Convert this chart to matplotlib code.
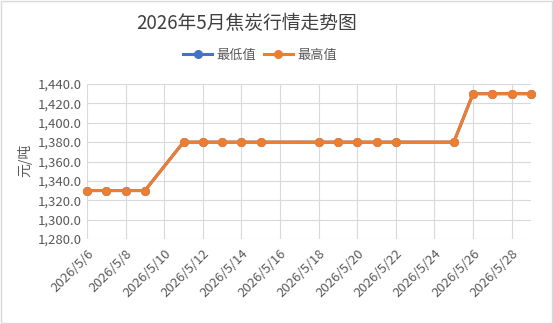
import matplotlib
matplotlib.use("Agg")
import matplotlib.pyplot as plt
import matplotlib.dates as mdates
from matplotlib.ticker import FuncFormatter
import datetime as dt

plt.rcParams['font.family'] = ['Noto Sans CJK SC', 'DejaVu Sans']

days = [6, 7, 8, 9, 11, 12, 13, 14, 15, 18, 19, 20, 21, 22, 25, 26, 27, 28, 29]
low_vals = [1330, 1330, 1330, 1330, 1380, 1380, 1380, 1380, 1380,
            1380, 1380, 1380, 1380, 1380, 1380, 1430, 1430, 1430, 1430]
high_vals = [1330, 1330, 1330, 1330, 1380, 1380, 1380, 1380, 1380,
             1380, 1380, 1380, 1380, 1380, 1380, 1430, 1430, 1430, 1430]
tick_days = [6, 8, 10, 12, 14, 16, 18, 20, 22, 24, 26, 28]

dates = [dt.date(2026, 5, d) for d in days]
ticks = [dt.date(2026, 5, d) for d in tick_days]

txt = '#595959'
blue = '#4472C4'
orange = '#ED7D31'

fig = plt.figure(figsize=(5.53, 3.24), dpi=100)
ax = fig.add_axes([87/553, 1-239/324, (531-87)/553, (239-84)/324])

ax.plot(dates, low_vals, color=blue, lw=2.2, marker='o', ms=5.5, label='最低值',
        clip_on=False)
ax.plot(dates, high_vals, color=orange, lw=2.2, marker='o', ms=5.5, label='最高值',
        clip_on=False)

ax.set_xlim(dt.date(2026, 5, 6), dt.date(2026, 5, 29))
ax.set_ylim(1280, 1440)
ax.set_yticks(range(1280, 1441, 20))
ax.yaxis.set_major_formatter(FuncFormatter(lambda v, p: f'{v:,.1f}'))
ax.set_xticks(ticks)
ax.set_xticklabels([f'2026/5/{d}' for d in tick_days], rotation=45, ha='right',
                   rotation_mode='anchor')

ax.grid(True, color='#D9D9D9', lw=0.8)
ax.set_axisbelow(True)
for s in ax.spines.values():
    s.set_visible(False)
ax.tick_params(length=0, colors=txt, labelsize=9.5, pad=4)
ax.tick_params(axis='x', pad=6)

fig.text(25/553, 1-160/324, '元/吨', rotation=90, ha='center', va='center',
         color=txt, fontsize=10)
fig.text(247/553, 1-24/324, '2026年5月焦炭行情走势图', ha='center', va='center',
         color='#404040', fontsize=13.5)
fig.legend(loc='center', bbox_to_anchor=(260/553, 1-55/324), ncol=2, frameon=False,
           fontsize=9.5, labelcolor=txt, handlelength=2.2, columnspacing=0.6,
           handletextpad=0.3)

fig.patches.append(plt.Rectangle((0.001, 0.002), 0.997, 0.995, transform=fig.transFigure,
                                 fill=False, edgecolor='#D9D9D9', lw=1))

fig.savefig('out.png', dpi=100)
